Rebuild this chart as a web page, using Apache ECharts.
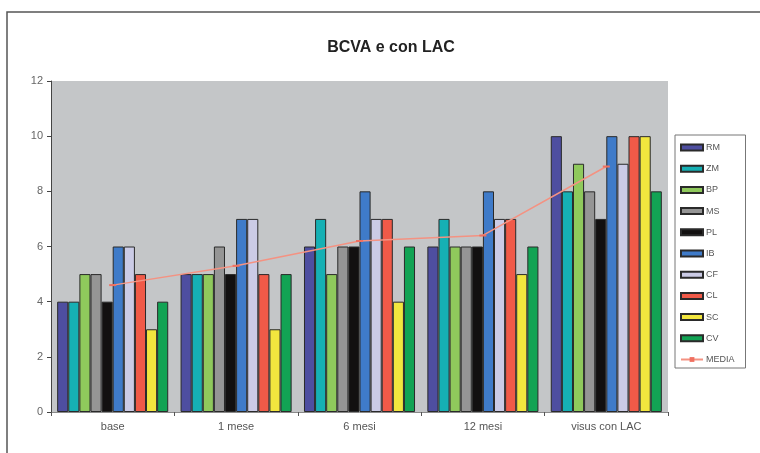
<!DOCTYPE html>
<html>
<head>
<meta charset="utf-8">
<script src="https://cdn.jsdelivr.net/npm/echarts@6/dist/echarts.min.js"></script>
<style>
  html, body { margin: 0; padding: 0; background: #ffffff; }
  #chart { width: 760px; height: 453px; }
</style>
</head>
<body>
<div id="chart"></div>
<script>
// Time points
const categories = ['base', '1 mese', '6 mesi', '12 mesi', 'visus con LAC'];

// BCVA per patient
const RM = [4, 5, 6, 6, 10];
const ZM = [4, 5, 7, 7, 8];
const BP = [5, 5, 5, 6, 9];
const MS = [5, 6, 6, 6, 8];
const PL = [4, 5, 6, 6, 7];
const IB = [6, 7, 8, 8, 10];
const CF = [6, 7, 7, 7, 9];
const CL = [5, 5, 7, 7, 10];
const SC = [3, 3, 4, 5, 10];
const CV = [4, 5, 6, 6, 8];

// Mean across patients
const MEDIA = [4.6, 5.3, 6.2, 6.4, 8.9];

const yTicks = [0, 2, 4, 6, 8, 10, 12];

const patients = [
  { name: 'RM', data: RM, color: '#4e4ea0' },
  { name: 'ZM', data: ZM, color: '#16b0b4' },
  { name: 'BP', data: BP, color: '#8fc95c' },
  { name: 'MS', data: MS, color: '#959595' },
  { name: 'PL', data: PL, color: '#121010' },
  { name: 'IB', data: IB, color: '#3f7bc9' },
  { name: 'CF', data: CF, color: '#cbcbe6' },
  { name: 'CL', data: CL, color: '#f05a48' },
  { name: 'SC', data: SC, color: '#f2e63e' },
  { name: 'CV', data: CV, color: '#12a354' }
];

const series = patients.map(p => ({
  name: p.name,
  type: 'bar',
  data: p.data,
  barGap: '0%',
  barCategoryGap: '10%',
  itemStyle: { color: p.color, borderColor: '#2a2a2a', borderWidth: 1 }
}));

series.push({
  name: 'MEDIA',
  type: 'line',
  data: MEDIA,
  symbol: 'rect',
  symbolSize: [7, 2],
  lineStyle: { color: '#f49282', width: 1.5 },
  itemStyle: { color: '#f07060' },
  z: 5
});

const legendData = patients.map(p => ({ name: p.name, icon: 'rect' }));
legendData.push({ name: 'MEDIA' });

const chart = echarts.init(document.getElementById('chart'), null, { renderer: 'canvas' });
chart.setOption({
  animation: false,
  backgroundColor: '#ffffff',
  title: {
    text: 'BCVA e con LAC',
    left: 386,
    top: 35,
    textAlign: 'center',
    textStyle: { fontFamily: 'Liberation Sans, Arial, sans-serif', fontSize: 16, fontWeight: 'bold', color: '#222222' }
  },
  graphic: [{
    type: 'rect',
    shape: { x: 7, y: 12, width: 800, height: 500 },
    style: { fill: 'none', stroke: '#555555', lineWidth: 1.5 },
    silent: true
  }],
  grid: {
    left: 51, right: 92, top: 81, bottom: 41,
    show: true, backgroundColor: '#c4c6c8', borderWidth: 0
  },
  legend: {
    orient: 'vertical',
    left: 675,
    top: 135,
    itemWidth: 22,
    itemHeight: 6,
    itemGap: 12.2,
    padding: [8, 11, 4, 5],
    borderColor: '#777777',
    borderWidth: 1,
    textStyle: { fontFamily: 'Liberation Sans Narrow, Liberation Sans, Arial, sans-serif', fontSize: 9, color: '#555555', padding: [0, 0, 0, -2] },
    data: legendData
  },
  xAxis: {
    type: 'category',
    data: categories,
    boundaryGap: true,
    axisLine: { lineStyle: { color: '#8a8a8a', width: 1 } },
    axisTick: { show: true, alignWithLabel: false, length: 4, lineStyle: { color: '#555' } },
    axisLabel: { color: '#555555', fontSize: 11, margin: 9, fontFamily: 'Liberation Sans, Arial, sans-serif' }
  },
  yAxis: {
    type: 'value',
    min: yTicks[0],
    max: yTicks[yTicks.length - 1],
    interval: 2,
    axisLine: { show: true, lineStyle: { color: '#444444', width: 1 } },
    axisTick: { show: true, length: 4, lineStyle: { color: '#444' } },
    axisLabel: { color: '#666666', fontSize: 11, margin: 8, fontFamily: 'Liberation Sans, Arial, sans-serif' },
    splitLine: { show: false }
  },
  series: series
});
</script>
</body>
</html>
